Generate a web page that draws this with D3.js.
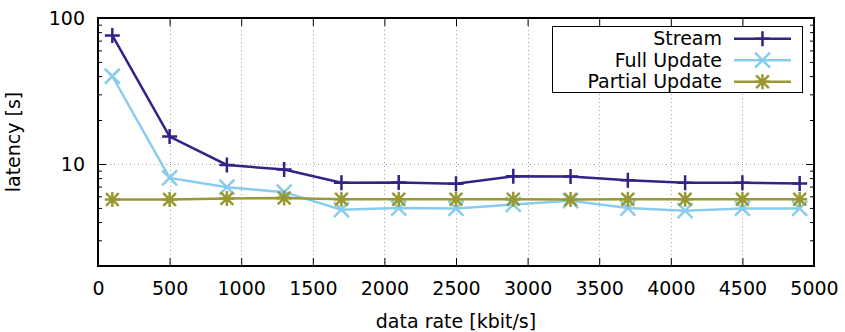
<!DOCTYPE html>
<html>
<head>
<meta charset="utf-8">
<script src="https://cdn.jsdelivr.net/npm/d3@7"></script>
<style>
  body { margin: 0; background: #fff; }
  svg { display: block; font-family: "DejaVu Sans", sans-serif; }
</style>
</head>
<body>
<svg id="chart" width="845" height="332"></svg>
<script>
const rates = [100, 500, 900, 1300, 1700, 2100, 2500, 2900, 3300, 3700, 4100, 4500, 4900];
const stream = [76, 15.4, 9.85, 9.15, 7.43, 7.47, 7.31, 8.23, 8.2, 7.73, 7.43, 7.43, 7.34];
const fullUpdate = [39.9, 8.03, 6.93, 6.41, 4.86, 4.99, 4.96, 5.28, 5.6, 4.99, 4.79, 4.96, 4.96];
const partialUpdate = [5.7, 5.72, 5.8, 5.85, 5.73, 5.73, 5.73, 5.73, 5.72, 5.73, 5.73, 5.73, 5.73];
const xTicks = [0, 500, 1000, 1500, 2000, 2500, 3000, 3500, 4000, 4500, 5000];
const yTicks = [10, 100];
const yMinor = [2, 3, 4, 5, 6, 7, 8, 9, 20, 30, 40, 50, 60, 70, 80, 90];

const series = [
  { name: 'Stream', values: stream, color: '#332288', marker: 'plus' },
  { name: 'Full Update', values: fullUpdate, color: '#88CCEE', marker: 'cross' },
  { name: 'Partial Update', values: partialUpdate, color: '#999933', marker: 'star' }
];

const svg = d3.select('#chart');
const pLeft = 98, pRight = 814, pTop = 18, pBottom = 266;
const fontSize = 19;

const x = d3.scaleLinear().domain([0, 5000]).range([pLeft, pRight]);
const y = d3.scaleLog().domain([2, 100]).range([pBottom, pTop]);

// grid
const grid = svg.append('g')
  .attr('stroke', '#a0a0a0').attr('stroke-width', 1).attr('stroke-dasharray', '1,3');
grid.selectAll('line.gx').data(xTicks.slice(1, -1)).enter().append('line')
  .attr('x1', d => Math.round(x(d)) + 0.5).attr('x2', d => Math.round(x(d)) + 0.5)
  .attr('y1', pTop).attr('y2', pBottom);
grid.append('line')
  .attr('x1', pLeft).attr('x2', pRight)
  .attr('y1', Math.round(y(10)) + 0.5).attr('y2', Math.round(y(10)) + 0.5);

// axes, gnuplot style: inward ticks, mirrored
const tickFmt = d3.format('d');
svg.append('g').attr('transform', `translate(0,${pBottom})`)
  .call(d3.axisBottom(x).tickValues(xTicks).tickSize(-8).tickPadding(16).tickFormat(tickFmt));
svg.append('g').attr('transform', `translate(0,${pTop})`)
  .call(d3.axisTop(x).tickValues(xTicks).tickSize(-8).tickFormat(''));
svg.append('g').attr('transform', `translate(${pLeft},0)`)
  .call(d3.axisLeft(y).tickValues(yTicks).tickSize(-8).tickPadding(13).tickFormat(tickFmt));
svg.append('g').attr('transform', `translate(${pLeft},0)`)
  .call(d3.axisLeft(y).tickValues(yMinor).tickSize(-4).tickFormat(''));
svg.append('g').attr('transform', `translate(${pRight},0)`)
  .call(d3.axisRight(y).tickValues(yTicks).tickSize(-8).tickFormat(''));
svg.append('g').attr('transform', `translate(${pRight},0)`)
  .call(d3.axisRight(y).tickValues(yMinor).tickSize(-4).tickFormat(''));

svg.selectAll('.domain').remove();
svg.selectAll('.tick line').attr('stroke', '#000').attr('stroke-width', 1);
svg.selectAll('.tick text').attr('font-size', fontSize).attr('fill', '#000')
  .attr('font-family', '"DejaVu Sans", sans-serif');

svg.append('rect')
  .attr('x', pLeft).attr('y', pTop).attr('width', pRight - pLeft).attr('height', pBottom - pTop)
  .attr('fill', 'none').attr('stroke', '#000').attr('stroke-width', 2);

// axis labels
svg.append('text').attr('x', (pLeft + pRight) / 2).attr('y', 328)
  .attr('text-anchor', 'middle').attr('font-size', fontSize).text('data rate [kbit/s]');
svg.append('text').attr('transform', `translate(20,${(pTop + pBottom) / 2}) rotate(-90)`)
  .attr('text-anchor', 'middle').attr('font-size', fontSize).text('latency [s]');

function markerPath(type, s) {
  if (type === 'plus') return `M${-s},0H${s}M0,${-s}V${s}`;
  if (type === 'cross') return `M${-s},${-s}L${s},${s}M${-s},${s}L${s},${-s}`;
  const k = s * 0.85;
  return `M${-s},0H${s}M0,${-s}V${s}M${-k},${-k}L${k},${k}M${-k},${k}L${k},${-k}`;
}

const line = d3.line().x(d => x(d[0])).y(d => y(d[1]));

series.forEach(s => {
  const pts = rates.map((r, i) => [r, s.values[i]]);
  const g = svg.append('g');
  g.append('path').datum(pts).attr('d', line)
    .attr('fill', 'none').attr('stroke', s.color).attr('stroke-width', 2.5);
  g.selectAll('path.m').data(pts).enter().append('path')
    .attr('class', 'm')
    .attr('transform', d => `translate(${x(d[0])},${y(d[1])})`)
    .attr('d', markerPath(s.marker, 7.5))
    .attr('fill', 'none').attr('stroke', s.color).attr('stroke-width', 2.5);
});

// legend
const legend = svg.append('g');
legend.append('rect').attr('x', 552.5).attr('y', 26.5).attr('width', 250).attr('height', 66)
  .attr('fill', '#fff').attr('stroke', '#000').attr('stroke-width', 1);
series.forEach((s, i) => {
  const ly = 38.7 + i * 21.5;
  legend.append('text').attr('x', 722).attr('y', ly).attr('dy', '0.35em')
    .attr('text-anchor', 'end').attr('font-size', fontSize).text(s.name);
  legend.append('line').attr('x1', 734).attr('x2', 791).attr('y1', ly).attr('y2', ly)
    .attr('stroke', s.color).attr('stroke-width', 2.5);
  legend.append('path').attr('transform', `translate(762.5,${ly})`)
    .attr('d', markerPath(s.marker, 7.5))
    .attr('fill', 'none').attr('stroke', s.color).attr('stroke-width', 2.5);
});
</script>
</body>
</html>
